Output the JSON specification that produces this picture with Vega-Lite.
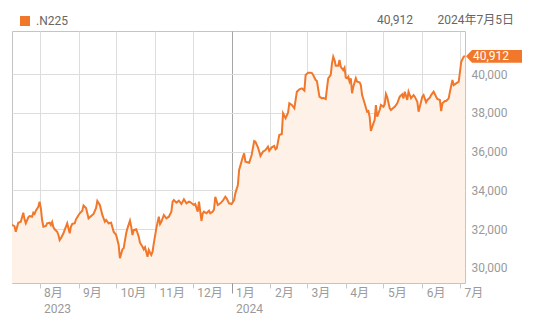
{
  "$schema": "https://vega.github.io/schema/vega-lite/v6.json",
  "width": 453,
  "height": 252,
  "autosize": {"type": "none"},
  "padding": {"left": 12, "top": 31, "right": 73, "bottom": 39},
  "background": "white",
  "title": {
    "text": "40,912\u2003\u20032024年7月5日",
    "anchor": "end",
    "frame": "group",
    "dx": 49,
    "offset": -20.5,
    "baseline": "alphabetic",
    "fontSize": 12,
    "fontWeight": "normal",
    "color": "#666666",
    "font": "Roboto, 'Noto Sans CJK JP', sans-serif"
  },
  "config": {
    "font": "Roboto, 'Noto Sans CJK JP', sans-serif",
    "view": {"stroke": "#c4c4c4"},
    "axis": {"labelFont": "Roboto, 'Noto Sans CJK JP', sans-serif"}
  },
  "data": {
    "format": {"parse": {"date": "date:'%Y-%m-%d'"}},
    "values": [
      {"date": "2023-07-10", "value": 32210},
      {"date": "2023-07-12", "value": 32150},
      {"date": "2023-07-13", "value": 31860},
      {"date": "2023-07-15", "value": 32325},
      {"date": "2023-07-17", "value": 32375},
      {"date": "2023-07-19", "value": 32840},
      {"date": "2023-07-20", "value": 32500},
      {"date": "2023-07-21", "value": 32295},
      {"date": "2023-07-23", "value": 32605},
      {"date": "2023-07-24", "value": 32670},
      {"date": "2023-07-26", "value": 32635},
      {"date": "2023-07-27", "value": 32840},
      {"date": "2023-07-28", "value": 32775},
      {"date": "2023-07-29", "value": 32945},
      {"date": "2023-07-31", "value": 33150},
      {"date": "2023-08-01", "value": 33410},
      {"date": "2023-08-02", "value": 33070},
      {"date": "2023-08-03", "value": 32465},
      {"date": "2023-08-04", "value": 32120},
      {"date": "2023-08-06", "value": 32155},
      {"date": "2023-08-07", "value": 32295},
      {"date": "2023-08-09", "value": 32325},
      {"date": "2023-08-10", "value": 32205},
      {"date": "2023-08-11", "value": 32360},
      {"date": "2023-08-12", "value": 32090},
      {"date": "2023-08-13", "value": 31985},
      {"date": "2023-08-15", "value": 31860},
      {"date": "2023-08-16", "value": 31690},
      {"date": "2023-08-17", "value": 31430},
      {"date": "2023-08-18", "value": 31520},
      {"date": "2023-08-20", "value": 31780},
      {"date": "2023-08-21", "value": 31950},
      {"date": "2023-08-22", "value": 32120},
      {"date": "2023-08-23", "value": 32295},
      {"date": "2023-08-25", "value": 31780},
      {"date": "2023-08-26", "value": 32120},
      {"date": "2023-08-27", "value": 32260},
      {"date": "2023-08-29", "value": 32295},
      {"date": "2023-08-30", "value": 32500},
      {"date": "2023-08-31", "value": 32605},
      {"date": "2023-09-02", "value": 32810},
      {"date": "2023-09-04", "value": 32945},
      {"date": "2023-09-05", "value": 33215},
      {"date": "2023-09-07", "value": 33085},
      {"date": "2023-09-09", "value": 32550},
      {"date": "2023-09-12", "value": 32725},
      {"date": "2023-09-13", "value": 32775},
      {"date": "2023-09-15", "value": 33085},
      {"date": "2023-09-16", "value": 33445},
      {"date": "2023-09-18", "value": 33240},
      {"date": "2023-09-20", "value": 32725},
      {"date": "2023-09-22", "value": 32375},
      {"date": "2023-09-23", "value": 32465},
      {"date": "2023-09-25", "value": 32295},
      {"date": "2023-09-27", "value": 32325},
      {"date": "2023-09-29", "value": 31860},
      {"date": "2023-10-01", "value": 31690},
      {"date": "2023-10-03", "value": 31175},
      {"date": "2023-10-04", "value": 30490},
      {"date": "2023-10-06", "value": 30950},
      {"date": "2023-10-07", "value": 31005},
      {"date": "2023-10-09", "value": 31780},
      {"date": "2023-10-10", "value": 32035},
      {"date": "2023-10-12", "value": 32430},
      {"date": "2023-10-13", "value": 32120},
      {"date": "2023-10-14", "value": 31690},
      {"date": "2023-10-15", "value": 31950},
      {"date": "2023-10-17", "value": 31985},
      {"date": "2023-10-19", "value": 31605},
      {"date": "2023-10-20", "value": 31295},
      {"date": "2023-10-22", "value": 31085},
      {"date": "2023-10-23", "value": 30950},
      {"date": "2023-10-24", "value": 31055},
      {"date": "2023-10-26", "value": 30570},
      {"date": "2023-10-27", "value": 30915},
      {"date": "2023-10-28", "value": 30775},
      {"date": "2023-10-29", "value": 30660},
      {"date": "2023-10-30", "value": 30830},
      {"date": "2023-10-31", "value": 31260},
      {"date": "2023-11-02", "value": 32035},
      {"date": "2023-11-04", "value": 32635},
      {"date": "2023-11-05", "value": 32260},
      {"date": "2023-11-06", "value": 32375},
      {"date": "2023-11-08", "value": 32725},
      {"date": "2023-11-10", "value": 32550},
      {"date": "2023-11-12", "value": 32635},
      {"date": "2023-11-14", "value": 32895},
      {"date": "2023-11-15", "value": 33410},
      {"date": "2023-11-16", "value": 33495},
      {"date": "2023-11-18", "value": 33360},
      {"date": "2023-11-20", "value": 33460},
      {"date": "2023-11-22", "value": 33290},
      {"date": "2023-11-24", "value": 33535},
      {"date": "2023-11-26", "value": 33325},
      {"date": "2023-11-28", "value": 33410},
      {"date": "2023-11-29", "value": 33390},
      {"date": "2023-12-02", "value": 33240},
      {"date": "2023-12-03", "value": 33290},
      {"date": "2023-12-05", "value": 32895},
      {"date": "2023-12-06", "value": 33410},
      {"date": "2023-12-08", "value": 32415},
      {"date": "2023-12-09", "value": 32810},
      {"date": "2023-12-10", "value": 32895},
      {"date": "2023-12-12", "value": 32810},
      {"date": "2023-12-14", "value": 32945},
      {"date": "2023-12-15", "value": 32810},
      {"date": "2023-12-17", "value": 32895},
      {"date": "2023-12-18", "value": 33015},
      {"date": "2023-12-19", "value": 33665},
      {"date": "2023-12-21", "value": 33240},
      {"date": "2023-12-23", "value": 33325},
      {"date": "2023-12-25", "value": 33460},
      {"date": "2023-12-27", "value": 33665},
      {"date": "2023-12-28", "value": 33585},
      {"date": "2023-12-30", "value": 33325},
      {"date": "2024-01-01", "value": 33290},
      {"date": "2024-01-03", "value": 33495},
      {"date": "2024-01-04", "value": 33840},
      {"date": "2024-01-06", "value": 34270},
      {"date": "2024-01-07", "value": 35045},
      {"date": "2024-01-10", "value": 35730},
      {"date": "2024-01-11", "value": 35905},
      {"date": "2024-01-12", "value": 35475},
      {"date": "2024-01-15", "value": 35420},
      {"date": "2024-01-17", "value": 35820},
      {"date": "2024-01-19", "value": 36540},
      {"date": "2024-01-20", "value": 36505},
      {"date": "2024-01-22", "value": 36215},
      {"date": "2024-01-24", "value": 35770},
      {"date": "2024-01-26", "value": 35990},
      {"date": "2024-01-28", "value": 36075},
      {"date": "2024-01-30", "value": 36250},
      {"date": "2024-01-31", "value": 36040},
      {"date": "2024-02-02", "value": 36215},
      {"date": "2024-02-04", "value": 36285},
      {"date": "2024-02-05", "value": 36115},
      {"date": "2024-02-06", "value": 36165},
      {"date": "2024-02-08", "value": 36850},
      {"date": "2024-02-10", "value": 36905},
      {"date": "2024-02-11", "value": 37970},
      {"date": "2024-02-13", "value": 37715},
      {"date": "2024-02-15", "value": 38005},
      {"date": "2024-02-16", "value": 38490},
      {"date": "2024-02-18", "value": 38400},
      {"date": "2024-02-20", "value": 38230},
      {"date": "2024-02-22", "value": 39085},
      {"date": "2024-02-24", "value": 39210},
      {"date": "2024-02-26", "value": 39260},
      {"date": "2024-02-28", "value": 39140},
      {"date": "2024-02-29", "value": 39950},
      {"date": "2024-03-02", "value": 40065},
      {"date": "2024-03-04", "value": 40065},
      {"date": "2024-03-05", "value": 40050},
      {"date": "2024-03-06", "value": 39950},
      {"date": "2024-03-08", "value": 39690},
      {"date": "2024-03-09", "value": 39640},
      {"date": "2024-03-11", "value": 38830},
      {"date": "2024-03-13", "value": 38745},
      {"date": "2024-03-14", "value": 38775},
      {"date": "2024-03-16", "value": 38710},
      {"date": "2024-03-17", "value": 39260},
      {"date": "2024-03-18", "value": 39780},
      {"date": "2024-03-20", "value": 39950},
      {"date": "2024-03-21", "value": 40550},
      {"date": "2024-03-22", "value": 40895},
      {"date": "2024-03-23", "value": 40725},
      {"date": "2024-03-24", "value": 40430},
      {"date": "2024-03-26", "value": 40430},
      {"date": "2024-03-27", "value": 40725},
      {"date": "2024-03-28", "value": 40375},
      {"date": "2024-03-30", "value": 40205},
      {"date": "2024-03-31", "value": 40325},
      {"date": "2024-04-01", "value": 39810},
      {"date": "2024-04-02", "value": 39780},
      {"date": "2024-04-03", "value": 39860},
      {"date": "2024-04-04", "value": 39605},
      {"date": "2024-04-05", "value": 39780},
      {"date": "2024-04-06", "value": 39005},
      {"date": "2024-04-07", "value": 39345},
      {"date": "2024-04-09", "value": 39780},
      {"date": "2024-04-10", "value": 39605},
      {"date": "2024-04-12", "value": 39570},
      {"date": "2024-04-13", "value": 39430},
      {"date": "2024-04-14", "value": 38915},
      {"date": "2024-04-16", "value": 38490},
      {"date": "2024-04-18", "value": 38055},
      {"date": "2024-04-19", "value": 38090},
      {"date": "2024-04-20", "value": 37795},
      {"date": "2024-04-21", "value": 37060},
      {"date": "2024-04-23", "value": 37455},
      {"date": "2024-04-24", "value": 37625},
      {"date": "2024-04-25", "value": 38400},
      {"date": "2024-04-26", "value": 37795},
      {"date": "2024-04-28", "value": 38140},
      {"date": "2024-04-29", "value": 38400},
      {"date": "2024-05-01", "value": 38310},
      {"date": "2024-05-02", "value": 38435},
      {"date": "2024-05-03", "value": 38970},
      {"date": "2024-05-04", "value": 38815},
      {"date": "2024-05-06", "value": 38230},
      {"date": "2024-05-07", "value": 38140},
      {"date": "2024-05-09", "value": 38260},
      {"date": "2024-05-10", "value": 38310},
      {"date": "2024-05-12", "value": 38490},
      {"date": "2024-05-14", "value": 38830},
      {"date": "2024-05-16", "value": 38950},
      {"date": "2024-05-17", "value": 38745},
      {"date": "2024-05-18", "value": 39085},
      {"date": "2024-05-20", "value": 38660},
      {"date": "2024-05-21", "value": 39085},
      {"date": "2024-05-23", "value": 38745},
      {"date": "2024-05-25", "value": 38915},
      {"date": "2024-05-26", "value": 38830},
      {"date": "2024-05-28", "value": 38570},
      {"date": "2024-05-29", "value": 38055},
      {"date": "2024-05-31", "value": 38570},
      {"date": "2024-06-01", "value": 38830},
      {"date": "2024-06-02", "value": 38915},
      {"date": "2024-06-04", "value": 38540},
      {"date": "2024-06-05", "value": 38660},
      {"date": "2024-06-07", "value": 38775},
      {"date": "2024-06-08", "value": 38915},
      {"date": "2024-06-10", "value": 39085},
      {"date": "2024-06-12", "value": 38830},
      {"date": "2024-06-13", "value": 38710},
      {"date": "2024-06-15", "value": 38660},
      {"date": "2024-06-16", "value": 38090},
      {"date": "2024-06-17", "value": 38490},
      {"date": "2024-06-19", "value": 38605},
      {"date": "2024-06-20", "value": 38610},
      {"date": "2024-06-22", "value": 38745},
      {"date": "2024-06-23", "value": 39085},
      {"date": "2024-06-25", "value": 39690},
      {"date": "2024-06-26", "value": 39430},
      {"date": "2024-06-28", "value": 39520},
      {"date": "2024-06-30", "value": 39605},
      {"date": "2024-07-01", "value": 40105},
      {"date": "2024-07-02", "value": 40635},
      {"date": "2024-07-04", "value": 40895},
      {"date": "2024-07-05", "value": 40912}
    ]
  },
  "encoding": {
    "x": {
      "field": "date",
      "type": "temporal",
      "scale": {"domain": [{"year": 2023, "month": 7, "date": 10}, {"year": 2024, "month": 7, "date": 5}]},
      "axis": {
        "title": null,
        "grid": true,
        "gridColor": {"condition": {"test": "month(datum.value) == 0", "value": "#a6a6a6"}, "value": "#dddddd"},
        "tickCount": {"interval": "month", "step": 1},
        "ticks": true,
        "tickSize": {"condition": {"test": "month(datum.value) == 0", "value": 10}, "value": 5},
        "tickColor": {"condition": {"test": "month(datum.value) == 0", "value": "#999999"}, "value": "#c8c8c8"},
        "domain": false,
        "labelExpr": "[(month(datum.value) + 1) + '月', (month(datum.value) == 0 || (year(datum.value) == 2023 && month(datum.value) == 7)) ? timeFormat(datum.value, '%Y') : '']",
        "labelAlign": "left",
        "labelBaseline": "top",
        "labelOffset": 4,
        "labelPadding": {"condition": {"test": "month(datum.value) == 0", "value": -6}, "value": -1},
        "labelColor": "#9a9a9a",
        "labelFontSize": 12,
        "labelLineHeight": 16,
        "labelOverlap": false,
        "labelFlush": false,
        "labelBound": false
      }
    },
    "y": {
      "field": "value",
      "type": "quantitative",
      "scale": {"domain": [29213, 42220], "nice": false, "zero": false},
      "axis": {
        "title": null,
        "orient": "right",
        "values": [30000, 32000, 34000, 36000, 38000, 40000],
        "format": ",d",
        "grid": true,
        "gridColor": "#dddddd",
        "ticks": false,
        "tickSize": 0,
        "domain": false,
        "labelPadding": 6,
        "labelColor": "#9a9a9a",
        "labelFontSize": 12
      }
    }
  },
  "layer": [
    {"mark": {"type": "area", "color": "#fdf1e8", "clip": true}},
    {"mark": {"type": "line", "color": "#f1772a", "strokeWidth": 2, "clip": true}},
    {
      "transform": [{"filter": "datum.value == 40912"}],
      "mark": {
        "type": "point",
        "shape": "M0.1,0L0.7,-0.63L5.7,-0.63L5.7,0.63L0.7,0.63Z",
        "size": 400,
        "filled": true,
        "opacity": 1,
        "strokeWidth": 0
      },
      "encoding": {
        "color": {
          "datum": ".N225",
          "type": "nominal",
          "scale": {"range": ["#f1772a"]},
          "legend": {
            "orient": "none",
            "legendX": 7,
            "legendY": -16,
            "title": null,
            "symbolType": "square",
            "symbolSize": 100,
            "symbolStrokeWidth": 0,
            "symbolOffset": 0,
            "labelFontSize": 12,
            "labelColor": "#666666",
            "labelOffset": 5,
            "padding": 0
          }
        }
      }
    },
    {
      "transform": [{"filter": "datum.value == 40912"}],
      "mark": {"type": "text", "align": "left", "baseline": "middle", "dx": 8, "color": "white", "fontSize": 12},
      "encoding": {"text": {"field": "value", "type": "quantitative", "format": ","}}
    }
  ]
}
